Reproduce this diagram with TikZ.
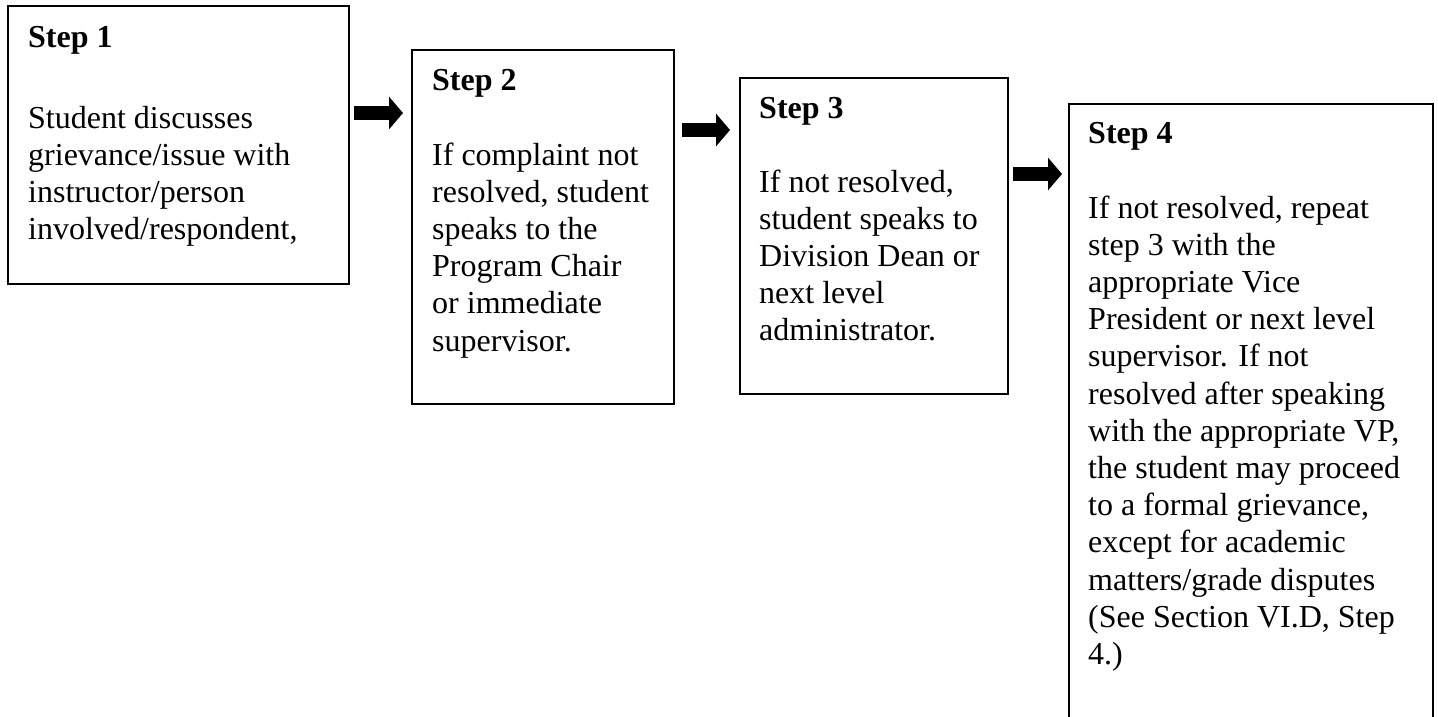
\documentclass[tikz,border=0pt]{standalone}
\usepackage{fontspec}
\setmainfont{Liberation Serif}
\usetikzlibrary{arrows.meta}
\begin{document}
\begin{tikzpicture}[x=1pt,y=-1pt,
  box/.style={draw=black, line width=2pt, rectangle, inner sep=0pt, anchor=north west},
  head/.style={anchor=base west, inner sep=0pt, font=\fontsize{32}{37.2}\selectfont\bfseries},
  body/.style={anchor=base west, inner sep=0pt, font=\fontsize{32}{37.2}\selectfont},
  blockarrow/.style={line width=14pt, -{Triangle[length=14pt,width=32pt]}}]
\useasboundingbox (0,0) rectangle (1438,716);
\clip (0,0) rectangle (1438,716);
% boxes
\node[box, minimum width=341pt, minimum height=278pt] (b1) at (7,5) {};
\node[box, minimum width=262pt, minimum height=354pt] (b2) at (411,49) {};
\node[box, minimum width=268pt, minimum height=316pt] (b3) at (739,77) {};
\node[box, minimum width=364pt, minimum height=660pt] (b4) at (1068,103) {};
% headings
\node[head] (h1) at (28,47) {Step 1};
\node[head] (h2) at (432,90) {Step 2};
\node[head] (h3) at (759,118) {Step 3};
\node[head] (h4) at (1088,143) {Step 4};
% bodies
\node[body] (t1) at (28,128) {\vtop{\hbox{Student discusses}\hbox{grievance/issue with}\hbox{instructor/person}\hbox{involved/respondent,}}};
\node[body] (t2) at (432,165) {\vtop{\hbox{If complaint not}\hbox{resolved, student}\hbox{speaks to the}\hbox{Program Chair}\hbox{or immediate}\hbox{supervisor.}}};
\node[body] (t3) at (759,192) {\vtop{\hbox{If not resolved,}\hbox{student speaks to}\hbox{Division Dean or}\hbox{next level}\hbox{administrator.}}};
\node[body] (t4) at (1088,218) {\vtop{\hbox{If not resolved, repeat}\hbox{step 3 with the}\hbox{appropriate Vice}\hbox{President or next level}\hbox{supervisor. If not}\hbox{resolved after speaking}\hbox{with the appropriate VP,}\hbox{the student may proceed}\hbox{to a formal grievance,}\hbox{except for academic}\hbox{matters/grade disputes}\hbox{(See Section VI.D, Step}\hbox{4.)}}};
% arrows
\coordinate (a1s) at (354,113); \coordinate (a1e) at (403,113);
\coordinate (a2s) at (682,130); \coordinate (a2e) at (730,130);
\coordinate (a3s) at (1013,174); \coordinate (a3e) at (1062,174);
\draw[blockarrow] (a1s) -- (a1e);
\draw[blockarrow] (a2s) -- (a2e);
\draw[blockarrow] (a3s) -- (a3e);
\end{tikzpicture}
\end{document}
